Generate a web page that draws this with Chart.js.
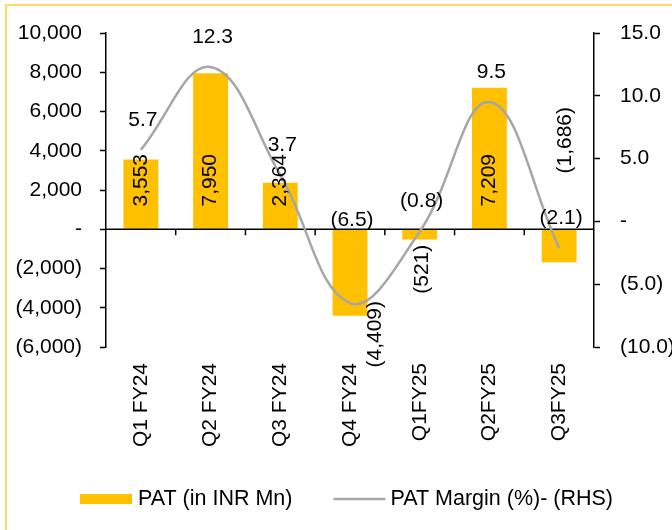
<!DOCTYPE html>
<html>
<head>
<meta charset="utf-8">
<script src="https://cdn.jsdelivr.net/npm/chart.js@4.4.1/dist/chart.umd.min.js"></script>
<style>
  html, body { margin: 0; padding: 0; background: #fff; }
  #wrap { position: relative; width: 672px; height: 530px; overflow: hidden; }
  #frame { position: absolute; left: 5px; top: 4px; width: 720px; height: 600px; border: 2px solid #FFD966; box-sizing: border-box; }
  #chart { position: absolute; left: 0; top: 0; }
</style>
</head>
<body>
<div id="wrap">
  <div id="frame"></div>
  <canvas id="chart" width="672" height="530"></canvas>
</div>
<script>
// data
const quarters = ['Q1 FY24', 'Q2 FY24', 'Q3 FY24', 'Q4 FY24', 'Q1FY25', 'Q2FY25', 'Q3FY25'];
const patValues = [3553, 7950, 2364, -4409, -521, 7209, -1686];
const marginValues = [5.7, 12.3, 3.7, -6.5, -0.8, 9.5, -2.1];
const leftTickValues = [-6000, -4000, -2000, 0, 2000, 4000, 6000, 8000, 10000];
const rightTickValues = [-10, -5, 0, 5, 10, 15];
const legendLabels = ['PAT (in INR Mn)', 'PAT Margin (%)- (RHS)'];

// label placement (pixels), same order as the data
const barLabelDx = [0, 0, 0, 25, 2, 0, 6];
const barLabelDy = [-49, -49, -49, 105, 40, -49, -89];   // from the zero line
const marginLabelDy = [-30, -30, -30, -83, -30, -30, -30]; // from the point

const BAR_COLOR = '#FFC000';
const LINE_COLOR = '#A6A6A6';
const FONT = '"Liberation Sans", Arial, sans-serif';
const FONT_SIZE = 21;
const LEGEND_FONT_SIZE = 21.5;

// 1,234 / (1,234) / - style used in the report
function fmt(v, digits) {
    if (v === 0) return '-';
    const s = Math.abs(v).toLocaleString('en-US', {
        minimumFractionDigits: digits,
        maximumFractionDigits: digits
    });
    return v < 0 ? '(' + s + ')' : s;
}

// zero line with the category tick marks, drawn between bars and line
const zeroAxis = {
    id: 'zeroAxis',
    afterDatasetDraw(chart, args) {
        if (args.index !== 1) return;
        const { ctx, chartArea, scales } = chart;
        const y0 = scales.yLeft.getPixelForValue(0);
        ctx.save();
        ctx.strokeStyle = '#000';
        ctx.lineWidth = 1.5;
        ctx.beginPath();
        ctx.moveTo(chartArea.left, y0);
        ctx.lineTo(chartArea.right, y0);
        for (let i = 0; i < quarters.length - 1; i++) {
            const x = (scales.x.getPixelForValue(i) + scales.x.getPixelForValue(i + 1)) / 2;
            ctx.moveTo(x, y0);
            ctx.lineTo(x, y0 + 6);
        }
        ctx.stroke();
        ctx.restore();
    }
};

// data labels for both series
const valueLabels = {
    id: 'valueLabels',
    afterDraw(chart) {
        const { ctx, scales } = chart;
        const y0 = scales.yLeft.getPixelForValue(0);
        const lineMeta = chart.getDatasetMeta(0);
        const barMeta = chart.getDatasetMeta(1);
        ctx.save();
        ctx.fillStyle = '#000';
        ctx.font = FONT_SIZE + 'px ' + FONT;
        ctx.textAlign = 'center';
        ctx.textBaseline = 'middle';

        barMeta.data.forEach((bar, i) => {
            ctx.save();
            ctx.translate(bar.x + barLabelDx[i], y0 + barLabelDy[i]);
            ctx.rotate(-Math.PI / 2);
            ctx.fillText(fmt(patValues[i], 0), 0, 0);
            ctx.restore();
        });

        lineMeta.data.forEach((pt, i) => {
            ctx.fillText(fmt(marginValues[i], 1), pt.x + 2, pt.y + marginLabelDy[i]);
        });
        ctx.restore();
    }
};

// legend drawn on the canvas
const bottomLegend = {
    id: 'bottomLegend',
    afterDraw(chart) {
        const { ctx } = chart;
        const y = 499;
        const swatch = 52;
        ctx.save();
        ctx.font = LEGEND_FONT_SIZE + 'px ' + FONT;
        ctx.textBaseline = 'middle';
        ctx.textAlign = 'left';
        const w1 = ctx.measureText(legendLabels[0]).width;
        const w2 = ctx.measureText(legendLabels[1]).width;
        const total = swatch + 6 + w1 + 41 + swatch + 5 + w2;
        let x = (chart.width - total) / 2 + 10.5;

        ctx.fillStyle = BAR_COLOR;
        ctx.fillRect(x, y - 5, swatch, 10);
        x += swatch + 6;
        ctx.fillStyle = '#000';
        ctx.fillText(legendLabels[0], x, y);
        x += w1 + 41;

        ctx.strokeStyle = LINE_COLOR;
        ctx.lineWidth = 2.5;
        ctx.beginPath();
        ctx.moveTo(x, y);
        ctx.lineTo(x + swatch, y);
        ctx.stroke();
        x += swatch + 5;
        ctx.fillText(legendLabels[1], x, y);
        ctx.restore();
    }
};

Chart.defaults.font.family = FONT;
Chart.defaults.font.size = FONT_SIZE;
Chart.defaults.color = '#000';

const ctx = document.getElementById('chart').getContext('2d');
new Chart(ctx, {
    data: {
        labels: quarters,
        datasets: [
            {
                type: 'line',
                label: legendLabels[1],
                data: marginValues,
                yAxisID: 'yRight',
                borderColor: LINE_COLOR,
                borderWidth: 2.5,
                pointRadius: 0,
                tension: 0.4,
                fill: false,
                order: 0
            },
            {
                type: 'bar',
                label: legendLabels[0],
                data: patValues,
                yAxisID: 'yLeft',
                backgroundColor: BAR_COLOR,
                borderWidth: 0,
                categoryPercentage: 1.0,
                barPercentage: 0.5,
                order: 1
            }
        ]
    },
    options: {
        responsive: false,
        animation: false,
        layout: {
            padding: { top: 33, bottom: 83, left: 0, right: 0 }
        },
        plugins: {
            legend: { display: false },
            tooltip: { enabled: false }
        },
        scales: {
            x: {
                grid: { display: false, drawTicks: false },
                border: { display: false },
                ticks: {
                    minRotation: 90,
                    maxRotation: 90,
                    padding: 16,
                    autoSkip: false
                },
                afterFit(scale) { scale.height = 100; }
            },
            yLeft: {
                position: 'left',
                min: leftTickValues[0],
                max: leftTickValues[leftTickValues.length - 1],
                afterBuildTicks(scale) {
                    scale.ticks = leftTickValues.map(v => ({ value: v }));
                },
                ticks: {
                    padding: 18,
                    callback: v => fmt(v, 0)
                },
                grid: {
                    drawOnChartArea: false,
                    drawTicks: true,
                    tickLength: 6,
                    tickWidth: 1.5,
                    tickColor: '#000'
                },
                border: { color: '#000', width: 1.5 },
                afterFit(scale) { scale.width = 106; }
            },
            yRight: {
                position: 'right',
                min: rightTickValues[0],
                max: rightTickValues[rightTickValues.length - 1],
                afterBuildTicks(scale) {
                    scale.ticks = rightTickValues.map(v => ({ value: v }));
                },
                ticks: {
                    padding: 20,
                    callback: v => fmt(v, 1)
                },
                grid: {
                    drawOnChartArea: false,
                    drawTicks: true,
                    tickLength: 6,
                    tickWidth: 1.5,
                    tickColor: '#000'
                },
                border: { color: '#000', width: 1.5 },
                afterFit(scale) { scale.width = 78; }
            }
        }
    },
    plugins: [zeroAxis, valueLabels, bottomLegend]
});
</script>
</body>
</html>
